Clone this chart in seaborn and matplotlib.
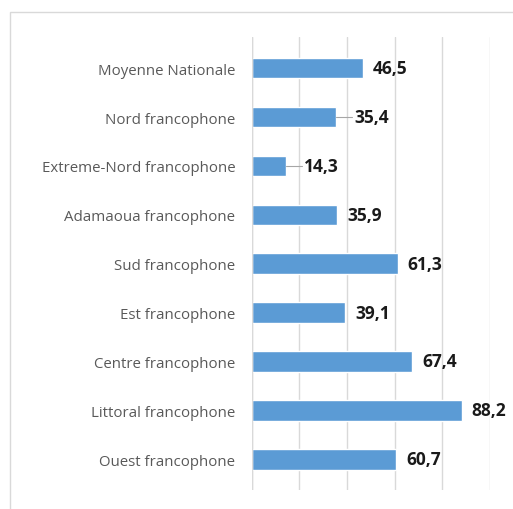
import pandas as pd
import matplotlib.pyplot as plt
import seaborn as sns
import matplotlib

# Values (top to bottom)
categories = ['Moyenne Nationale', 'Nord francophone', 'Extreme-Nord francophone',
              'Adamaoua francophone', 'Sud francophone', 'Est francophone',
              'Centre francophone', 'Littoral francophone', 'Ouest francophone']
values = [46.5, 35.4, 14.3, 35.9, 61.3, 39.1, 67.4, 88.2, 60.7]
value_labels = ['46,5', '35,4', '14,3', '35,9', '61,3', '39,1', '67,4', '88,2', '60,7']
leader_lines = ['Nord francophone', 'Extreme-Nord francophone']

sns.set_style('white')
matplotlib.rcParams['font.family'] = ['Open Sans', 'DejaVu Sans']

data = pd.DataFrame({'region': categories, 'value': values})

fig = plt.figure(figsize=(5.13, 5.10), dpi=100)
ax = fig.add_axes([0.491, 0.037, 0.464, 0.888])

sns.barplot(data=data, x='value', y='region', color='#5B9BD5', width=0.42,
            saturation=1, ax=ax)

ax.set_xlim(0, 100)
ax.set_xticks(range(0, 101, 20))
ax.set_xticklabels([])
ax.xaxis.grid(True, color='#D9D9D9', linewidth=1)
ax.set_axisbelow(True)
ax.tick_params(axis='both', length=0)
ax.tick_params(axis='y', labelsize=10.8, labelcolor='#595959', pad=12)
ax.set_xlabel('')
ax.set_ylabel('')
for s in ax.spines.values():
    s.set_visible(False)
ax.axvline(0, color='#D9D9D9', linewidth=1)

# Data labels
for i, (cat, v, lab) in enumerate(zip(categories, values, value_labels)):
    if cat in leader_lines:
        x0 = v + 7.5
        ax.plot([v, x0 - 0.8], [i, i], color='#A6A6A6', linewidth=0.8, clip_on=False)
    else:
        x0 = v + 4.2
    ax.text(x0, i, lab, va='center', ha='left', fontsize=12.5, fontweight='bold',
            color='#1a1a1a', clip_on=False)

# Chart frame
frame = plt.Rectangle((10 / 513, -0.1), 1.2, 1 - 13 / 510 + 0.1, transform=fig.transFigure,
                      fill=False, edgecolor='#D9D9D9', linewidth=1)
fig.patches.append(frame)

fig.savefig('out.png', dpi=100)
